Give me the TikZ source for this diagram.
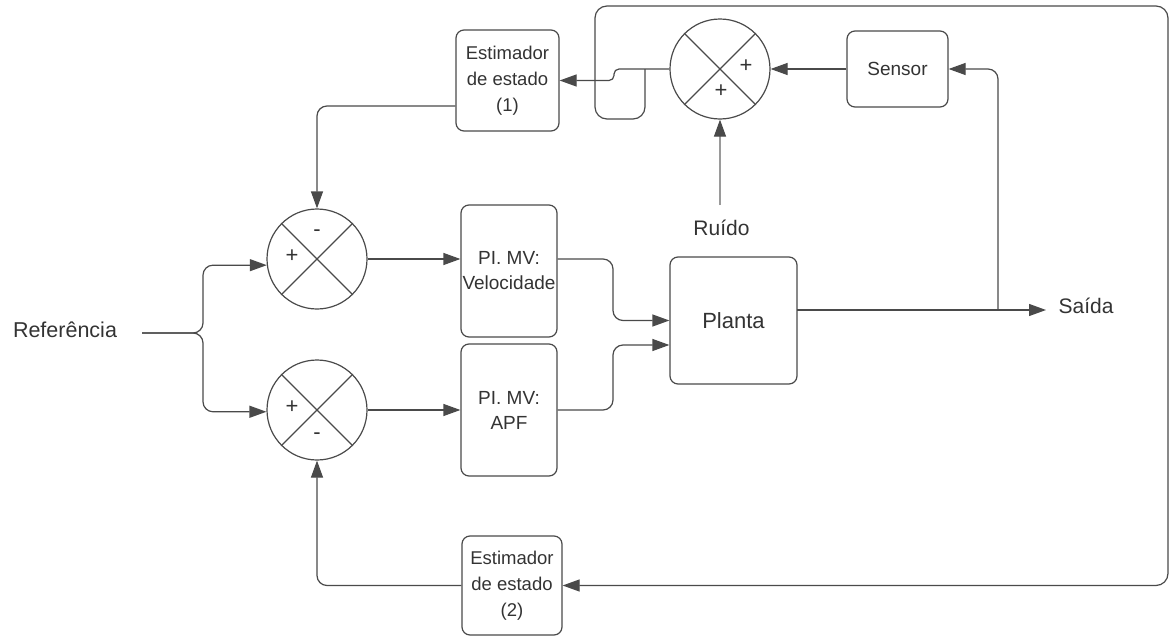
\documentclass[tikz,border=0pt]{standalone}
\usepackage{fontspec}
\setmainfont{Liberation Sans}
\usetikzlibrary{arrows.meta,calc}
\definecolor{wirec}{HTML}{4A4A4A}
\definecolor{txtc}{HTML}{333333}
\definecolor{noisec}{HTML}{9A9A9A}
\begin{document}
\begin{tikzpicture}[x=1pt,y=-1pt,
  wire/.style={draw=wirec,line width=1.2pt,rounded corners=10pt},
  arr/.style={-{Triangle[length=17pt,width=12pt,color=wirec]}},
  blk/.style={draw=wirec,line width=1.2pt,rounded corners=8pt,fill=white,
    inner sep=1pt,align=center,text=txtc},
  sumc/.style={draw=wirec,line width=1.2pt,circle,minimum size=100pt,inner sep=0pt},
  sgn/.style={text=txtc,font=\fontsize{22}{22}\selectfont,inner sep=0pt},
  lbl/.style={text=txtc,inner sep=0pt,anchor=base}]
\useasboundingbox (0,0) rectangle (1176,637);

% blocks
\node[blk,minimum width=103pt,minimum height=101pt,font=\fontsize{18.5}{26}\selectfont]
  (est1) at (507.5,80.5) {Estimador\\de estado\\(1)};
\node[blk,minimum width=100pt,minimum height=99pt,font=\fontsize{18.5}{26}\selectfont]
  (est2) at (512,585.5) {Estimador\\de estado\\(2)};
\node[blk,minimum width=101pt,minimum height=76pt,font=\fontsize{19}{25}\selectfont]
  (sensor) at (897.5,69) {Sensor};
\node[blk,minimum width=96pt,minimum height=132pt,font=\fontsize{19}{25}\selectfont]
  (pi1) at (509,271) {PI. MV:\\Velocidade};
\node[blk,minimum width=96pt,minimum height=132pt,font=\fontsize{19}{25}\selectfont]
  (pi2) at (509,410) {PI. MV:\\APF};
\node[blk,minimum width=127pt,minimum height=127pt,font=\fontsize{22}{26}\selectfont]
  (planta) at (733.5,320.5) {Planta};

% summing junctions
\node[sumc] (s0) at (720,69) {};
\node[sumc] (s1) at (317,259) {};
\node[sumc] (s2) at (317,410) {};
\foreach \s in {s0,s1,s2}{
  \draw[draw=wirec,line width=1.2pt] (\s.45) -- (\s.225);
  \draw[draw=wirec,line width=1.2pt] (\s.135) -- (\s.315);
}
\node[sgn] (s0a) at (746,66) {+};
\node[sgn] (s0b) at (721,91) {+};
\node[sgn] (s1a) at (292,256) {+};
\node[sgn] (s1b) at (317,233) {-};
\node[sgn] (s2a) at (292,407) {+};
\node[sgn] (s2b) at (317,436) {-};

% free labels
\node[lbl,font=\fontsize{21.5}{24}\selectfont] (ref) at (65,337) {Referência};
\node[lbl,font=\fontsize{21}{24}\selectfont] (saida) at (1086,313) {Saída};
\node[lbl,font=\fontsize{21}{24}\selectfont] (ruido) at (721.5,235) {Ruído};

% routing points
\coordinate (refout) at (142,333);
\coordinate (split) at (203,333);
\coordinate (mx) at (613,0);
\coordinate (pin2) at ($(planta.west)+(0,24.5)$);
\coordinate (pout) at (797,310);
\coordinate (outtip) at (1046,310);
\coordinate (br) at (998,310);
\coordinate (nz) at (720,205);
\coordinate (jg) at (614,0);
\coordinate (tap) at (645,69);
\coordinate (lpl) at (595,119);
\coordinate (lpt) at (1168,6);
\coordinate (e1o) at ($(est1.west)+(0,25.5)$);

% reference split
\draw[wire,arr] (refout) -- (split) |- (s1.187);
\draw[wire,arr] (refout) -- (split) |- (s2.182);

% error signals to controllers
\draw[wire,arr] (s1.east) -- (pi1.west |- s1.east);
\draw[wire,arr] (s2.east) -- (pi2.west |- s2.east);

% controllers to plant
\draw[wire,arr] (pi1.east |- s1.east) -| (mx |- planta.west) -- (planta.west);
\draw[wire,arr] (pi2.east |- s2.east) -| (mx |- pin2) -- (pin2);

% plant output and sensor branch
\draw[wire,arr] (pout) -- (outtip);
\draw[wire,arr] (br) |- (sensor.east);
\draw[wire,arr] (sensor.west) -- (s0.east);

% noise input
\draw[draw=noisec,line width=1.2pt,arr] (s0.south |- nz) -- (s0.south);

% measured signal to estimator 1 (with jog)
\draw[wire,rounded corners=5pt,arr] (s0.west) -- (jg |- s0.west) -- (jg |- est1.east) -- (est1.east);

% measured signal around to estimator 2
\draw[wire,rounded corners=12pt,arr] (tap) |- (lpl) |- (lpt) |- (est2.east);

% estimators back to the summing junctions
\draw[wire,arr] (e1o) -| (s1.north);
\draw[wire,arr] (est2.west) -| (s2.south);
\end{tikzpicture}
\end{document}
